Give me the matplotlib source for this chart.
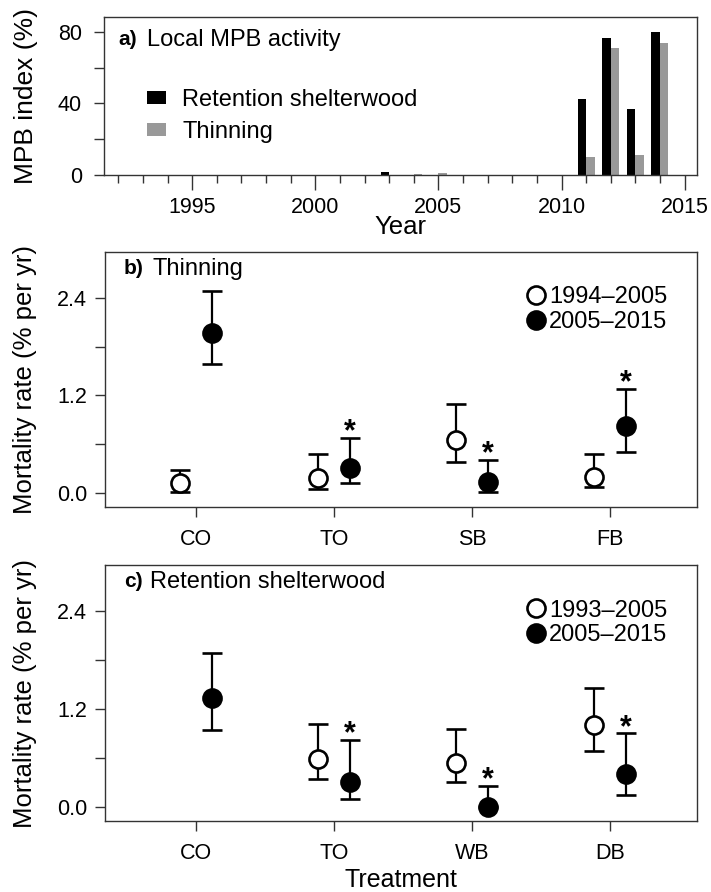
import numpy as np
import matplotlib
matplotlib.use('Agg')
import matplotlib.pyplot as plt
from matplotlib.ticker import FixedLocator

plt.rcParams['font.family'] = ['Liberation Sans', 'DejaVu Sans']
plt.rcParams['axes.linewidth'] = 1.0
plt.rcParams['axes.edgecolor'] = '#333333'

# panel a: local MPB activity
years = [2003, 2004, 2005, 2011, 2012, 2013, 2014]
mpb_retention = [1.5, 0.0, 0.0, 42.5, 76.4, 36.7, 80.0]
mpb_thinning = [0.0, 0.5, 1.0, 10.2, 70.8, 11.0, 73.9]

# panel b: thinning
thin_cats = ['CO', 'TO', 'SB', 'FB']
thin_early = [0.12, 0.18, 0.65, 0.20]
thin_early_lo = [0.02, 0.05, 0.38, 0.07]
thin_early_hi = [0.29, 0.48, 1.09, 0.48]
thin_late = [1.97, 0.31, 0.14, 0.82]
thin_late_lo = [1.58, 0.12, 0.02, 0.51]
thin_late_hi = [2.48, 0.68, 0.41, 1.28]
thin_star = [False, True, True, True]

# panel c: retention shelterwood
ret_cats = ['CO', 'TO', 'WB', 'DB']
ret_early = [np.nan, 0.59, 0.54, 1.00]
ret_early_lo = [np.nan, 0.34, 0.31, 0.68]
ret_early_hi = [np.nan, 1.01, 0.96, 1.46]
ret_late = [1.33, 0.31, 0.0, 0.41]
ret_late_lo = [0.94, 0.10, 0.0, 0.15]
ret_late_hi = [1.88, 0.82, 0.26, 0.90]
ret_star = [False, True, True, True]

fig = plt.figure(figsize=(7.11, 8.92), dpi=100)
axa = fig.add_axes([104 / 711, 1 - 175 / 892, 593 / 711, 158.3 / 892])
axb = fig.add_axes([105 / 711, 1 - 507 / 892, 592 / 711, 255 / 892])
axc = fig.add_axes([105 / 711, 1 - 821 / 892, 592 / 711, 256 / 892])

tick_fs = 15.5
lab_fs = 18.5
txt_fs = 17

# ---- panel a
yr = np.array(years, dtype=float)
axa.bar(yr - 0.35, mpb_retention, width=0.35, align='edge', color='black', label='Retention shelterwood')
axa.bar(yr, mpb_thinning, width=0.34, align='edge', color='#999999', label='Thinning')
axa.set_xlim(1991.42, 2015.5)
axa.set_ylim(0, 88.4)
axa.xaxis.set_major_locator(FixedLocator([1995, 2000, 2005, 2010, 2015]))
axa.xaxis.set_minor_locator(FixedLocator([y for y in range(1992, 2016) if y % 5]))
axa.yaxis.set_major_locator(FixedLocator([0, 40, 80]))
axa.yaxis.set_minor_locator(FixedLocator([20, 60]))
axa.tick_params(which='both', direction='out', width=1, labelsize=tick_fs, color='#333333')
axa.tick_params(axis='x', which='major', length=11, pad=5)
axa.tick_params(axis='x', which='minor', length=6)
axa.tick_params(axis='y', which='both', length=7, pad=9)
axa.set_xlabel('Year', fontsize=lab_fs, labelpad=-2)
axa.set_ylabel('MPB index (%)', fontsize=lab_fs + 0.5, labelpad=14)
axa.text(0.025, 0.854, 'a)', transform=axa.transAxes, fontsize=15, fontweight='bold', va='center')
axa.text(0.0725, 0.854, 'Local MPB activity', transform=axa.transAxes, fontsize=txt_fs, va='center')
axa.legend(loc='upper left', bbox_to_anchor=(0.072, 0.545), frameon=False, fontsize=txt_fs,
           handlelength=0.8, handleheight=0.47, handletextpad=0.7, labelspacing=0.45,
           borderpad=0, borderaxespad=0)


def mortality_panel(ax, cats, early, elo, ehi, late, llo, lhi, stars, labels, tag, title, title_x):
    x = np.arange(len(cats))
    early = np.array(early)
    late = np.array(late)
    ax.errorbar(x - 0.116, early, yerr=[early - np.array(elo), np.array(ehi) - early], fmt='o',
                mfc='white', mec='black', mew=1.9, ms=13, ecolor='black', elinewidth=1.6,
                capsize=7, capthick=1.6, color='black', label=labels[0], zorder=3)
    ax.errorbar(x + 0.116, late, yerr=[late - np.array(llo), np.array(lhi) - late], fmt='o',
                mfc='black', mec='black', mew=1.9, ms=13, ecolor='black', elinewidth=1.6,
                capsize=7, capthick=1.6, color='black', label=labels[1], zorder=3)
    for i, s in enumerate(stars):
        if s:
            ax.text(x[i] + 0.116, lhi[i] - 0.03, '*', ha='center', va='baseline',
                    fontsize=22, fontweight='bold')
    ax.set_xlim(-0.66, 3.63)
    ax.set_ylim(-0.17, 2.96)
    ax.set_xticks(x)
    ax.set_xticklabels(cats)
    ax.yaxis.set_major_locator(FixedLocator([0.0, 1.2, 2.4]))
    ax.yaxis.set_minor_locator(FixedLocator([0.6, 1.8]))
    ax.set_yticklabels(['0.0', '1.2', '2.4'])
    ax.tick_params(which='both', direction='out', length=7, width=1, labelsize=tick_fs,
                   color='#333333', pad=6)
    ax.tick_params(axis='x', length=7, pad=9)
    ax.set_ylabel('Mortality rate (% per yr)', fontsize=lab_fs, labelpad=14)
    ax.text(0.032, 0.935, tag, transform=ax.transAxes, fontsize=15, fontweight='bold', va='center')
    ax.text(title_x, 0.935, title, transform=ax.transAxes, fontsize=txt_fs, va='center')
    h, l = ax.get_legend_handles_labels()
    h = [hh[0] for hh in h]
    ax.legend(h, l, loc='upper left', bbox_to_anchor=(0.716, 0.865), frameon=False, fontsize=txt_fs,
              handlelength=0.6, handletextpad=0.25, labelspacing=0.12, borderpad=0, borderaxespad=0)


mortality_panel(axb, thin_cats, thin_early, thin_early_lo, thin_early_hi, thin_late, thin_late_lo,
                thin_late_hi, thin_star, ['1994\u20132005', '2005\u20132015'], 'b)', 'Thinning', 0.08)
mortality_panel(axc, ret_cats, ret_early, ret_early_lo, ret_early_hi, ret_late, ret_late_lo,
                ret_late_hi, ret_star, ['1993\u20132005', '2005\u20132015'], 'c)', 'Retention shelterwood', 0.076)
axc.set_xlabel('Treatment', fontsize=lab_fs - 0.5, labelpad=3)

fig.savefig('out.png', dpi=100)
